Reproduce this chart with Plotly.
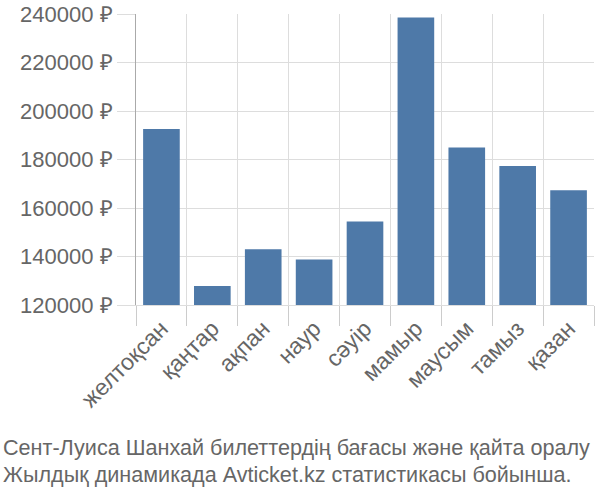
import plotly.graph_objects as go

months = ["желтоқсан", "қаңтар", "ақпан", "наур", "сәуір", "мамыр", "маусым", "тамыз", "қазан"]
prices = [192600, 127800, 143000, 138800, 154400, 238600, 184900, 177300, 167300]
y_ticks = [120000, 140000, 160000, 180000, 200000, 220000, 240000]
y_tick_labels = [f"{v} ₽" for v in y_ticks]
caption_lines = ["Сент-Луиса Шанхай билеттердің бағасы және қайта оралу",
                 "Жылдық динамикада Avticket.kz статистикасы бойынша."]

fig = go.Figure(go.Bar(x=months, y=prices, marker=dict(color="#4e79a8", line=dict(width=0))))

annots = []
for line, yp in zip(caption_lines, [-0.49, -0.582]):
    annots.append(dict(
        text=line, xref="paper", yref="paper", x=0, y=yp,
        xanchor="left", yanchor="middle", showarrow=False,
        font=dict(size=21.6, color="#666666"), xshift=-135,
    ))

fig.update_layout(
    width=600, height=500,
    margin=dict(l=136, r=6, t=14, b=195, autoexpand=False),
    paper_bgcolor="white", plot_bgcolor="white",
    bargap=0.28,
    showlegend=False,
    font=dict(family="Liberation Sans, Arial, sans-serif", color="#666666"),
    annotations=annots,
)
fig.update_xaxes(
    type="category", tickson="boundaries", ticks="outside", ticklen=20,
    tickcolor="#cccccc", showgrid=True, gridcolor="#dddddd", gridwidth=1,
    showline=True, linecolor="#dddddd", tickangle=-45, automargin=False,
    tickfont=dict(size=23, color="#666666"),
)
fig.update_yaxes(
    range=[120000, 240000], tickvals=y_ticks, ticktext=y_tick_labels,
    ticks="outside", ticklen=18, tickcolor="#dddddd",
    showgrid=True, gridcolor="#dddddd", gridwidth=1,
    showline=True, linecolor="#aaaaaa", zeroline=False, automargin=False,
    tickfont=dict(size=22, color="#666666"),
)

fig.write_html("out.html", config={"displayModeBar": False},
               post_script="document.body.style.margin='0';")
